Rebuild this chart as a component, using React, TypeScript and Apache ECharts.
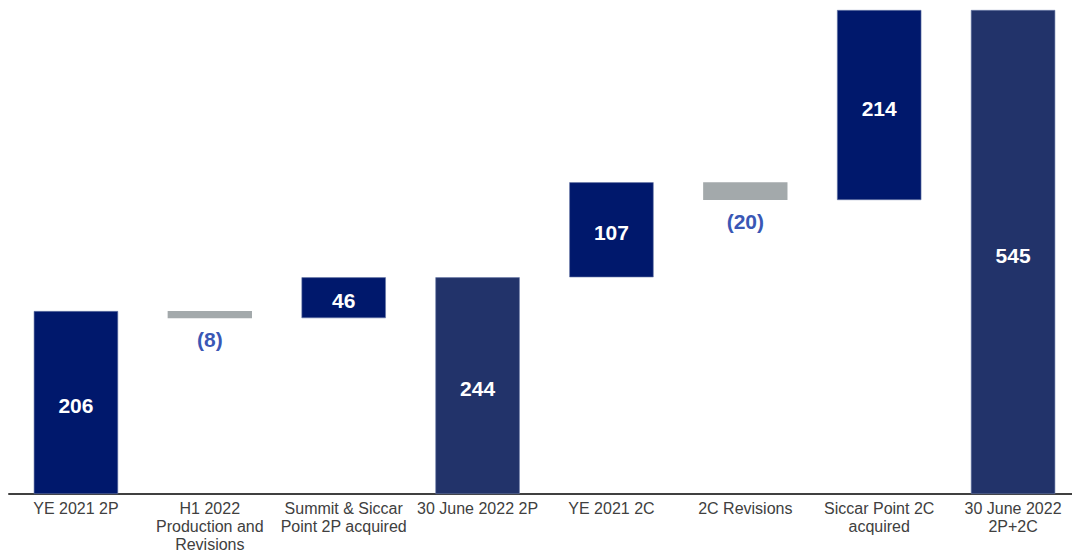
import React, { useEffect, useRef } from "react";
import * as echarts from "echarts";

const categories = [
  "YE 2021 2P",
  "H1 2022\nProduction and\nRevisions",
  "Summit & Siccar\nPoint 2P acquired",
  "30 June 2022 2P",
  "YE 2021 2C",
  "2C Revisions",
  "Siccar Point 2C\nacquired",
  "30 June 2022\n2P+2C",
];
const values = [206, -8, 46, 244, 107, -20, 214, 545];
const isTotal = [true, false, false, true, false, false, false, true];
const barColorKey = ["navy", "grey", "navy", "total", "navy", "grey", "navy", "total"];

const COLORS: Record<string, string> = {
  navy: "#00186c",
  total: "#22336a",
  grey: "#a3a9ab",
};
const NEG_LABEL = "#3a57b5";
const FONT = "Liberation Sans, Arial, sans-serif";

export default function App() {
  const ref = useRef<HTMLDivElement>(null);
  useEffect(() => {
    if (!ref.current) return;
    const chart = echarts.init(ref.current, undefined, { renderer: "svg" });
    const base: number[] = [];
    const size: number[] = [];
    let running = 0;
    values.forEach((v, i) => {
      if (isTotal[i]) {
        base.push(0);
        size.push(v);
        running = v;
      } else {
        const next = running + v;
        base.push(Math.min(running, next));
        size.push(Math.abs(v));
        running = next;
      }
    });
    const data = values.map((v, i) => {
      const neg = v < 0;
      return {
        value: size[i],
        itemStyle: {
          color: COLORS[barColorKey[i]],
          borderColor: neg ? COLORS.grey : "#6a7aa8",
          borderWidth: neg ? 0 : 0.6,
        },
        label: neg
          ? {
              show: true,
              position: "bottom",
              distance: 11,
              color: NEG_LABEL,
              fontSize: 21,
              fontWeight: "bold",
              fontFamily: FONT,
              formatter: () => "(" + Math.abs(v) + ")",
            }
          : {
              show: true,
              position: "inside",
              offset: [0, 3],
              color: "#ffffff",
              fontSize: 21,
              fontWeight: "bold",
              fontFamily: FONT,
              formatter: () => String(v),
            },
      };
    });
    chart.setOption({
      animation: false,
      grid: {
        left: 9,
        top: 10,
        width: 1071,
        bottom: 57,
        containLabel: false,
        outerBoundsMode: "none",
      },
      xAxis: {
        type: "category",
        data: categories,
        axisLine: { lineStyle: { color: "#404040", width: 2 } },
        axisTick: { show: false },
        axisLabel: {
          color: "#404040",
          fontSize: 16,
          lineHeight: 18,
          margin: 5,
          interval: 0,
          hideOverlap: false,
          fontFamily: FONT,
        },
      },
      yAxis: {
        type: "value",
        min: 0,
        max: 545,
        show: false,
        splitLine: { show: false },
      },
      series: [
        {
          type: "bar",
          stack: "w",
          data: base,
          itemStyle: { color: "transparent" },
          emphasis: { disabled: true },
          barWidth: "63%",
        },
        {
          type: "bar",
          stack: "w",
          data,
          barWidth: "63%",
        },
      ],
    });
    return () => chart.dispose();
  }, []);
  return (
    <div
      ref={ref}
      style={{ position: "absolute", left: 0, top: 0, width: 1072, height: 551, background: "#fff" }}
    />
  );
}
